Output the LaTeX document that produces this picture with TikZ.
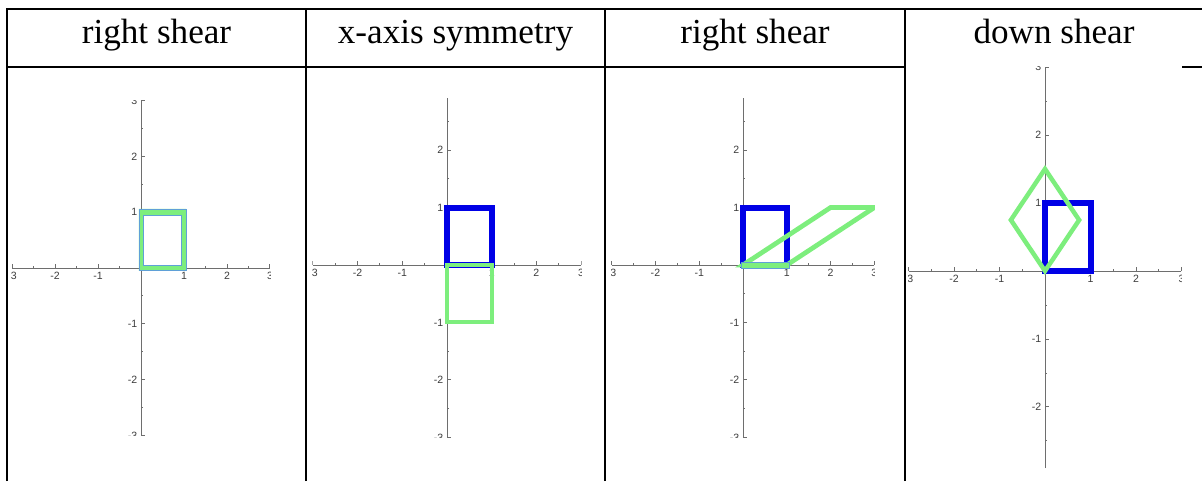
\documentclass[tikz,border=0pt]{standalone}
\usepackage{fontspec}
\setmainfont{Liberation Serif}
\newfontfamily\tickfont{Liberation Sans}
\definecolor{plotblue}{RGB}{0,0,230}
\definecolor{plotgreen}{RGB}{125,238,125}
\definecolor{edgeblue}{RGB}{95,160,215}
\definecolor{axisgray}{RGB}{110,110,110}
\definecolor{ticktext}{RGB}{60,60,60}

% axes of one plot: #1 name, #2 lowest y, #3 highest y
\newcommand{\planeaxes}[3]{%
  \clip (-3.01,#2-0.005) rectangle (3.01,#3+0.005);
  \draw[axisline] (-3,0) -- (3,0); \draw[axisline] (0,#2) -- (0,#3);
  \foreach \t in {-3,-2,-1,1,2,3} {
    \draw[axisline] (\t,0) -- ++(0pt,2pt); \node[xnum] (#1x\t) at (\t,0) {\t};
    \draw[axisline] (0,\t) -- ++(2pt,0pt); \node[ynum] (#1y\t) at (0,\t) {\t};
  }
  \foreach \t in {-2.5,-1.5,-0.5,0.5,1.5,2.5} {
    \draw[axisline] (\t,0) -- ++(0pt,1pt); \draw[axisline] (0,\t) -- ++(1pt,0pt);
  }
}

\begin{document}
\begin{tikzpicture}[x=0.02cm, y=0.02cm,
  tableline/.style={line width=0.7pt},
  head/.style={anchor=base, inner sep=0pt, font=\fontsize{20}{24}\selectfont},
  axisline/.style={draw=axisgray, line width=0.55pt},
  xnum/.style={below, inner sep=2.2pt, text=ticktext, font=\tickfont\fontsize{6}{7}\selectfont},
  ynum/.style={left, inner sep=2pt, text=ticktext, font=\tickfont\fontsize{6}{7}\selectfont},
  bluebox/.style={draw=plotblue, line width=0.12cm},
  greenbox/.style={draw=plotgreen, line width=0.095cm},
  edgebox/.style={draw=edgeblue, line width=0.4pt}]
\useasboundingbox (0,0) rectangle (1202,481);

% table
\draw[tableline] (7,0) -- (7,472) -- (1202,472);
\draw[tableline] (7,414) -- (1202,414);
\foreach \c in {306,605,905} \draw[tableline] (\c,0) -- (\c,472);
\node[head] (hd1) at (156.5,438) {right shear};
\node[head] (hd2) at (455.5,438) {x-axis symmetry};
\node[head] (hd3) at (755,438) {right shear};
\node[head] (hd4) at (1054,438) {down shear};
\fill[white] (906,0) rectangle (1182,414.8);

% plot 1
\begin{scope}[shift={(141,213)}, x=0.86cm, y=1.116cm]
\planeaxes{pa}{-3}{3}
\fill[plotgreen, even odd rule] (-0.05,-0.05) rectangle (1.05,1.06) (0.05,0.04) rectangle (0.95,0.95);
\draw[edgebox] (-0.05,-0.05) rectangle (1.05,1.06); \draw[edgebox] (0.05,0.04) rectangle (0.95,0.95);
\end{scope}

% plot 2
\begin{scope}[shift={(447,216)}, x=0.894cm, y=1.15cm]
\planeaxes{pb}{-3}{2.9}
\draw[bluebox] (0,0) rectangle (1,1);
\draw[greenbox, line width=0.08cm] (0,0) rectangle (1,-1);
\end{scope}

% plot 3
\begin{scope}[shift={(743,216)}, x=0.876cm, y=1.15cm]
\planeaxes{pc}{-3}{2.9}
\draw[bluebox] (0,0) rectangle (1,1);
\draw[greenbox] (0,0) -- (1,0) -- (3,1) -- (2,1) -- cycle;
\filldraw[fill=plotgreen, edgebox] (-0.04,-0.05) rectangle (1.06,0.05);
\end{scope}

% plot 4
\begin{scope}[shift={(1045,210)}, x=0.91cm, y=1.36cm]
\planeaxes{pd}{-2.9}{3}
\draw[bluebox] (0,0) rectangle (1,1);
\draw[greenbox, line width=0.09cm] (0,0) -- (0.75,0.75) -- (0,1.5) -- (-0.75,0.75) -- cycle;
\end{scope}

\end{tikzpicture}
\end{document}
